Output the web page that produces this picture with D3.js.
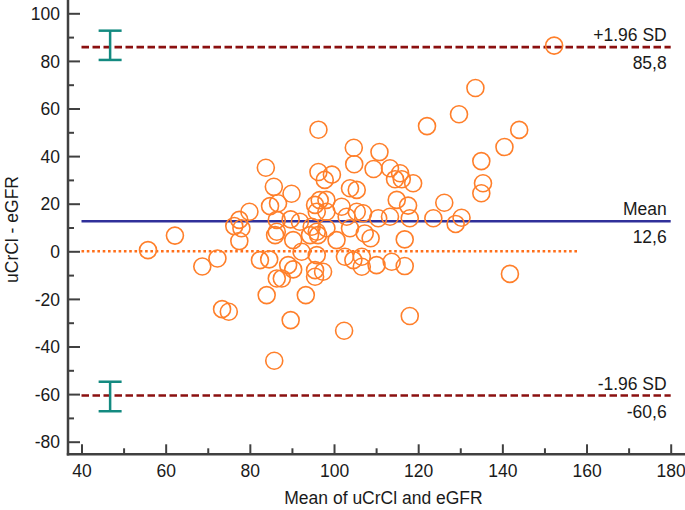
<!DOCTYPE html>
<html><head><meta charset="utf-8">
<script src="https://cdn.jsdelivr.net/npm/d3@7"></script>
<style>body{margin:0;background:#fff}svg{display:block}text{font-family:"Liberation Sans",Arial,sans-serif;fill:#1a1a1a}</style>
</head><body><div id="c"></div>
<script>
const meanValues = [55.8,62.2,68.7,72.3,73.4,75.0,76.3,77.5,78.0,79.9,77.5,
83.8,85.7,89.9,84.8,86.7,86.4,89.7,91.9,86.4,86.0,90.3,92.3,82.4,84.6,89.1,90.3,86.4,87.6,84.0,93.3,89.7,85.8,
96.3,96.3,99.5,97.8,95.5,96.6,95.9,94.7,95.9,94.3,96.2,95.9,95.5,95.5,97.4,98.2,98.2,98.2,100.6,
104.7,104.8,110.8,109.4,113.3,115.7,114.5,116.1,118.8,114.9,117.6,103.8,105.4,101.8,105.4,106.9,103.0,110.5,113.3,118.0,
103.8,107.3,108.7,116.8,102.6,104.6,106.6,106.6,110.1,113.7,116.8,118.0,102.4,
122.1,129.7,133.6,152.3,144.0,140.5,135.0,135.4,135.0,126.2,123.6,130.3,128.9,141.8];
const diffValues = [0.5,6.6,-6.4,-3.0,-24.3,-25.4,10.6,13.2,9.7,16.6,4.3,
35.1,27.1,24.2,19.0,20.2,13.2,13.4,12.4,8.2,6.8,4.7,-0.2,-3.7,-3.4,-5.8,-7.6,-11.4,-11.4,-18.4,-18.4,-28.9,-46.0,
51.1,33.3,32.2,30.0,19.5,21.5,16.6,10.3,8.2,6.8,6.8,-1.6,-7.9,-10.7,-8.6,21.6,16.6,9.7,4.7,
43.5,36.6,41.7,34.6,34.9,32.8,30.3,30.3,28.6,21.6,19.2,26.5,25.8,18.7,16.6,16.0,14.5,13.9,14.5,13.9,
9.7,7.5,5.5,5.0,-2.3,-3.7,-2.3,-6.5,-5.8,-4.4,-6.2,-27.2,-33.4,
52.6,57.6,68.6,86.4,51.0,43.8,37.9,28.6,24.4,20.4,13.9,14.1,11.5,-9.5];
const xTicks = [40,60,80,100,120,140,160,180];
const xMinor = [50,70,90,110,130,150,170];
const yTicks = [-80,-60,-40,-20,0,20,40,60,80,100];
const yMinor = [-70,-50,-30,-10,10,30,50,70,90];
const limitValues = [85.8, 12.6, -60.6];
const limitTop = ["+1.96 SD","Mean","-1.96 SD"];
const limitBottom = ["85,8","12,6","-60,6"];
const ciUpper = [80.4, 92.7];
const ciLower = [-67.2, -54.8];
const ciX = 46.8;
const zeroLineEnd = 158;

const W=685,H=510,FS=17.5;
const svg=d3.select("#c").append("svg").attr("width",W).attr("height",H);
const x=d3.scaleLinear().domain([40,180]).range([81.5,670.7]);
const y=d3.scaleLinear().domain([-80,100]).range([441.7,13.3]);
const axisX=68, axisY=454.3;
const axCol="#404040";
const fmt=d=>String(d);

// zero line
svg.append("line").attr("x1",x(40)).attr("x2",x(zeroLineEnd)).attr("y1",y(0)).attr("y2",y(0))
  .attr("stroke","#ff6f1a").attr("stroke-width",2.5).attr("stroke-dasharray","2.6,2.7");

// limit lines
limitValues.forEach((v,i)=>{
  const isMean=i===1;
  svg.append("line").attr("x1",x(40)).attr("x2",x(180)).attr("y1",y(v)).attr("y2",y(v))
    .attr("stroke",isMean?"#30309a":"#8b1010").attr("stroke-width",isMean?2.5:2.6)
    .attr("stroke-dasharray",isMean?null:"7.5,3.5");
  svg.append("text").attr("x",x(180)-4).attr("y",y(v)-6).attr("text-anchor","end").attr("font-size",FS).text(limitTop[i]);
  svg.append("text").attr("x",x(180)-4).attr("y",y(v)+22).attr("text-anchor","end").attr("font-size",FS).text(limitBottom[i]);
});

// points
svg.append("g").selectAll("circle").data(meanValues).join("circle")
  .attr("cx",(d)=>x(d)).attr("cy",(d,i)=>y(diffValues[i])).attr("r",8.5)
  .attr("fill","none").attr("stroke","#ff7f2a").attr("stroke-width",1.6);

// CI bars
[ciUpper,ciLower].forEach(ci=>{
  const g=svg.append("g").attr("stroke","#138a80").attr("stroke-width",2.5);
  g.append("line").attr("x1",x(ciX)).attr("x2",x(ciX)).attr("y1",y(ci[0])).attr("y2",y(ci[1]));
  ci.forEach(v=>g.append("line").attr("x1",x(ciX)-11.5).attr("x2",x(ciX)+11.5).attr("y1",y(v)).attr("y2",y(v)));
});

// axes
const gx=svg.append("g").attr("transform",`translate(0,${axisY})`);
gx.call(d3.axisBottom(x).tickValues(xTicks).tickSizeInner(-10).tickSizeOuter(0).tickPadding(0).tickFormat(fmt));
gx.select(".domain").remove();
gx.selectAll(".tick line").attr("stroke",axCol).attr("stroke-width",2);
gx.selectAll(".tick text").attr("font-size",FS).attr("fill","#1a1a1a").attr("y",23).attr("dy",0).attr("font-family",null);
const gxm=svg.append("g").attr("transform",`translate(0,${axisY})`);
gxm.call(d3.axisBottom(x).tickValues(xMinor).tickSizeInner(-6).tickSizeOuter(0).tickFormat(""));
gxm.select(".domain").remove();
gxm.selectAll(".tick line").attr("stroke",axCol).attr("stroke-width",2);

const gy=svg.append("g").attr("transform",`translate(${axisX},0)`);
gy.call(d3.axisLeft(y).tickValues(yTicks).tickSizeInner(-12).tickSizeOuter(0).tickPadding(0).tickFormat(fmt));
gy.select(".domain").remove();
gy.selectAll(".tick line").attr("stroke",axCol).attr("stroke-width",2);
gy.selectAll(".tick text").attr("font-size",FS).attr("fill","#1a1a1a").attr("x",-8).attr("dy","0.35em").attr("font-family",null);
const gym=svg.append("g").attr("transform",`translate(${axisX},0)`);
gym.call(d3.axisLeft(y).tickValues(yMinor).tickSizeInner(-6).tickSizeOuter(0).tickFormat(""));
gym.select(".domain").remove();
gym.selectAll(".tick line").attr("stroke",axCol).attr("stroke-width",2);

svg.append("line").attr("x1",axisX).attr("x2",axisX).attr("y1",0).attr("y2",axisY+1.2).attr("stroke",axCol).attr("stroke-width",2.5);
svg.append("line").attr("x1",axisX-1.2).attr("x2",W).attr("y1",axisY).attr("y2",axisY).attr("stroke",axCol).attr("stroke-width",2.5);

svg.append("text").attr("x",383.5).attr("y",504).attr("text-anchor","middle").attr("font-size",FS).text("Mean of uCrCl and eGFR");
svg.append("text").attr("transform","translate(18,229.5) rotate(-90)").attr("text-anchor","middle").attr("font-size",FS).text("uCrCl - eGFR");
</script></body></html>
